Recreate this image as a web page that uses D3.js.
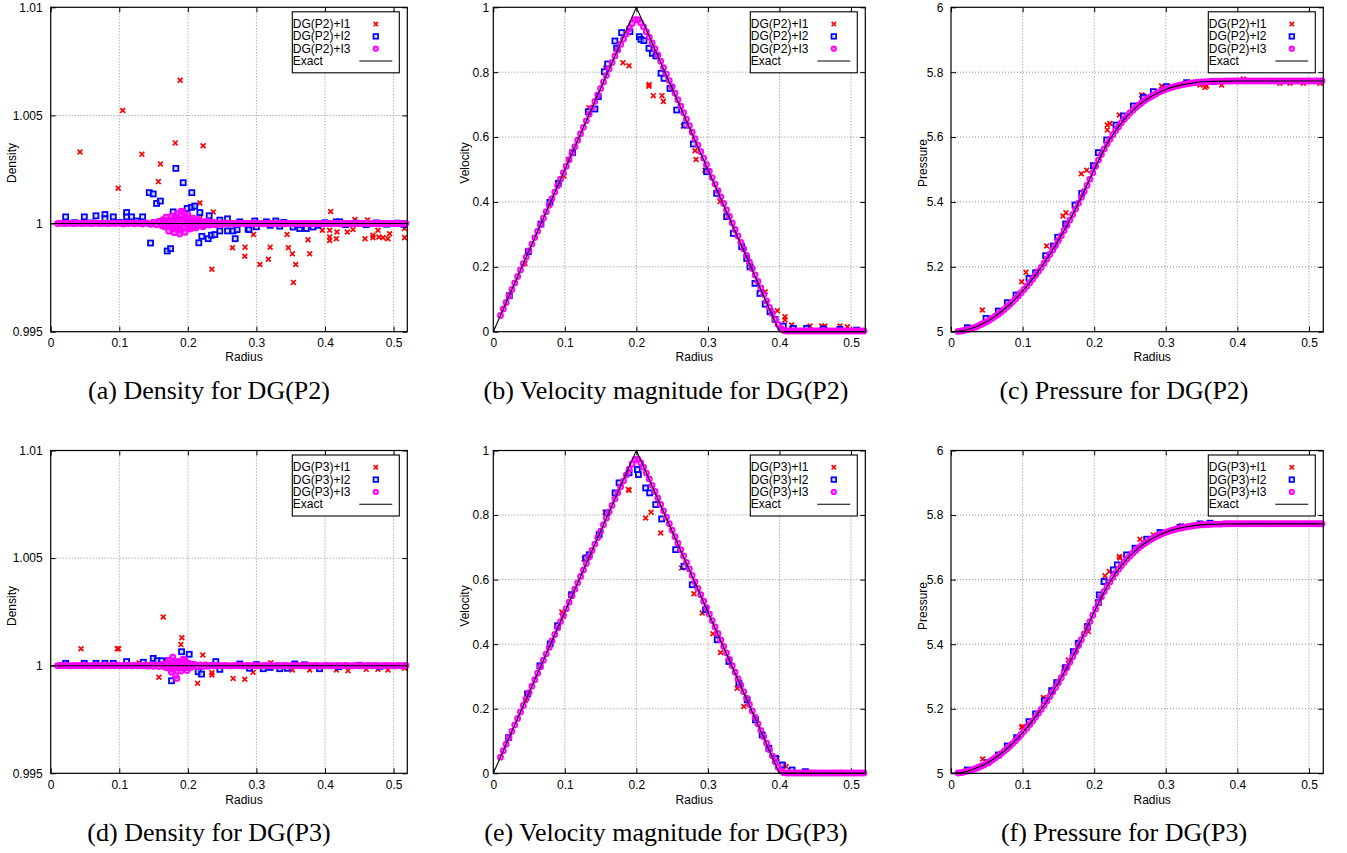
<!DOCTYPE html>
<html><head><meta charset="utf-8">
<script src="https://cdn.jsdelivr.net/npm/d3@7"></script>
<style>body{margin:0;background:#fff}svg{display:block}</style>
</head><body>
<svg id="chart" width="1347" height="853"></svg>
<script>
// ---------------- DATA ----------------
const xTickValues = [0, 0.1, 0.2, 0.3, 0.4, 0.5];
const xTickLabels = ["0", "0.1", "0.2", "0.3", "0.4", "0.5"];
const densityTicks = [0.995, 1, 1.005, 1.01];
const densityTickLabels = ["0.995", "1", "1.005", "1.01"];
const velocityTicks = [0, 0.2, 0.4, 0.6, 0.8, 1];
const velocityTickLabels = ["0", "0.2", "0.4", "0.6", "0.8", "1"];
const pressureTicks = [5, 5.2, 5.4, 5.6, 5.8, 6];
const pressureTickLabels = ["5", "5.2", "5.4", "5.6", "5.8", "6"];
const legendP2 = ["DG(P2)+I1", "DG(P2)+I2", "DG(P2)+I3", "Exact"];
const legendP3 = ["DG(P3)+I1", "DG(P3)+I2", "DG(P3)+I3", "Exact"];
const captions = ["(a) Density for DG(P2)", "(b) Velocity magnitude for DG(P2)", "(c) Pressure for DG(P2)",
                  "(d) Density for DG(P3)", "(e) Velocity magnitude for DG(P3)", "(f) Pressure for DG(P3)"];

// radii of the I3 sample points
const radiusI3 = [
0.010,0.014,0.018,0.022,0.026,0.030,0.034,0.038,0.042,0.046,
0.050,0.054,0.058,0.062,0.066,0.070,0.074,0.078,0.082,0.086,
0.090,0.094,0.098,0.102,0.106,0.110,0.114,0.118,0.122,0.126,
0.130,0.134,0.138,0.142,0.146,0.150,0.154,0.158,0.162,0.166,
0.170,0.174,0.178,0.182,0.186,0.190,0.194,0.198,0.202,0.206,
0.210,0.214,0.218,0.222,0.226,0.230,0.234,0.238,0.242,0.246,
0.250,0.254,0.258,0.262,0.266,0.270,0.274,0.278,0.282,0.286,
0.290,0.294,0.298,0.302,0.306,0.310,0.314,0.318,0.322,0.326,
0.330,0.334,0.338,0.342,0.346,0.350,0.354,0.358,0.362,0.366,
0.370,0.374,0.378,0.382,0.386,0.390,0.394,0.398,0.402,0.406,
0.410,0.414,0.418,0.422,0.426,0.430,0.434,0.438,0.442,0.446,
0.450,0.454,0.458,0.462,0.466,0.470,0.474,0.478,0.482,0.486,
0.490,0.494,0.498,0.502,0.506,0.510,0.514,0.518];

// ---- Density DG(P2) ----
const densP2_I1 = [[0.0427,1.00331],[0.0985,1.00163],[0.105,1.00523],[0.133,1.00321],[0.157,1.00194],[0.160,1.00275],
[0.1816,1.00373],[0.1888,1.00663],[0.2223,1.0036],[0.2175,1.00095],[0.237,1.00054],[0.2175,1.00023],[0.235,0.99789],
[0.265,0.99888],[0.2835,0.99891],[0.283,0.99849],[0.2956,0.99949],[0.305,0.99811],[0.3175,0.99835],[0.320,0.99891],
[0.3447,0.9995],[0.3466,0.99888],[0.3524,0.9986],[0.3539,0.99728],[0.3573,0.99811],[0.3777,0.9986],[0.3752,0.99925],
[0.396,0.99969],[0.4068,0.99969],[0.4083,1.00056],[0.4068,0.99938],[0.4068,0.99922],[0.4165,0.9993],[0.4175,0.99961],
[0.4325,0.99961],[0.4408,0.99972],[0.4437,1.00019],[0.4583,0.9993],[0.4621,1.00016],[0.4699,0.99946],[0.4699,0.99935],
[0.4772,0.99969],[0.4786,0.99938],[0.4845,0.99935],[0.4917,0.9993],[0.4942,0.99953],[0.516,0.99977],[0.516,0.99935],
[0.128,1.00005],[0.2,1.0002]];
const densP2_I2 = [[0.0218,1.00031],[0.049,1.00031],[0.066,1.00036],[0.0791,1.00042],[0.0791,1.00023],[0.0913,1.00031],
[0.1107,1.00051],[0.1107,1.00031],[0.118,1.00031],[0.134,1.00031],[0.1437,1.00143],[0.1495,1.00137],[0.1544,1.00093],
[0.160,1.00104],[0.1456,0.9991],[0.1699,0.99873],[0.1748,0.99884],[0.1786,1.00054],[0.1825,1.00255],[0.1932,1.00189],
[0.2058,1.00143],[0.199,1.0007],[0.2053,1.00075],[0.210,1.00081],[0.2175,1.00051],[0.2311,1.00036],[0.216,0.99911],
[0.2204,0.99941],[0.2296,0.9993],[0.2345,0.99946],[0.2393,0.99949],[0.2466,0.99966],[0.2466,1.00016],[0.2578,1.00022],
[0.2578,0.99966],[0.266,0.99966],[0.269,0.9993],[0.2718,0.99972],[0.2757,1.00008],[0.2879,0.99975],[0.2893,0.99972],
[0.2976,1.00012],[0.3146,1.00008],[0.3282,1.00012],[0.334,0.99988],[0.3534,0.99984],[0.3631,0.99977],[0.3728,0.99977],
[0.3825,0.99984],[0.4165,1.00008],[0.4214,1.00008],[0.43,0.99995],[0.445,1.00002],[0.46,0.99995],[0.475,1.00003],
[0.49,0.99997],[0.505,1.00002],[0.515,0.99996],[0.30,0.99985],[0.32,0.99992],[0.34,1.00005],[0.36,0.99995],
[0.39,0.99992],[0.40,1.00004],[0.125,1.00012],[0.10,1.00005],[0.06,1.00003],[0.035,1.00004]];
const densP2_I3 = [
1.00000,1.00002,1.00001,1.00000,1.00002,1.00001,1.00000,1.00002,1.00001,1.00000,
1.00001,1.00002,1.00000,1.00001,1.00003,1.00000,1.00001,1.00002,1.00000,1.00001,
1.00002,1.00000,1.00003,1.00001,0.99998,1.00002,1.00000,1.00003,0.99999,1.00002,
1.00001,0.99998,1.00004,1.00000,0.99997,1.00006,0.99995,1.00008,0.99992,1.00012,
0.99988,1.00015,0.99985,1.00018,0.99982,1.00020,0.99980,1.00018,0.99985,1.00015,
0.99990,1.00012,0.99992,1.00008,0.99994,1.00006,0.99996,1.00004,0.99997,1.00003,
0.99997,1.00003,0.99998,1.00002,1.00000,1.00001,0.99999,1.00001,1.00000,1.00001,
1.00000,0.99999,1.00001,1.00000,1.00001,0.99999,1.00000,1.00001,1.00000,0.99999,
1.00001,1.00000,1.00000,0.99999,1.00001,1.00000,1.00000,1.00001,0.99999,1.00000,
1.00001,1.00000,0.99999,1.00000,1.00001,1.00000,1.00000,0.99999,1.00001,1.00000,
1.00000,1.00001,1.00000,0.99999,1.00000,1.00001,1.00000,1.00000,0.99999,1.00001,
1.00000,1.00000,1.00001,1.00000,0.99999,1.00000,1.00001,1.00000,1.00000,0.99999,
1.00001,1.00000,1.00000,1.00001,1.00000,0.99999,1.00000,1.00001];
const densP2_I3_extra = [[0.158,1.00010],[0.162,0.99990],[0.164,1.00018],[0.166,0.99985],[0.168,1.00030],[0.170,1.00012],
[0.172,0.99965],[0.174,0.99988],[0.176,1.00035],[0.177,1.00015],[0.178,0.99975],[0.180,0.99958],[0.181,1.00025],
[0.183,0.99990],[0.184,1.00045],[0.186,1.00020],[0.187,0.99970],[0.188,0.99952],[0.189,1.00035],[0.190,1.00057],
[0.192,1.00010],[0.193,1.00055],[0.194,0.99985],[0.196,0.99960],[0.197,1.00030],[0.199,1.00015],[0.200,1.00040],
[0.201,0.99980],[0.203,1.00020],[0.204,0.99975],[0.206,1.00008],[0.208,1.00025],[0.210,0.99992],[0.212,0.99980],
[0.214,1.00010],[0.216,1.00018],[0.219,0.99990],[0.222,0.99985],[0.225,1.00008],[0.228,1.00012],[0.232,0.99993],
[0.236,1.00006],[0.240,0.99995]];

// ---- Density DG(P3) ----
const densP3_I1 = [[0.0442,1.00079],[0.0971,1.00079],[0.099,1.00079],[0.1641,1.00226],[0.1913,1.0013],[0.1898,1.00098],
[0.2218,1.0005],[0.1578,0.99946],[0.2141,0.99918],[0.235,0.99957],[0.235,0.99967],[0.266,0.99941],[0.283,0.99937],
[0.2951,0.99969],[0.3209,1.00014],[0.3524,0.9998],[0.3777,0.9998],[0.4165,0.9998],[0.4335,0.99977],[0.4602,0.99983],
[0.4772,0.99983],[0.4917,0.9998],[0.516,0.99988],[0.129,1.00014]];
const densP3_I2 = [[0.0218,1.00011],[0.049,1.00011],[0.066,1.00011],[0.0791,1.00011],[0.0913,1.00011],[0.1107,1.00019],
[0.135,1.00016],[0.1495,1.00034],[0.1553,1.00023],[0.1617,1.00023],[0.1714,1.00023],[0.1762,0.9993],[0.1908,1.00065],
[0.202,1.00053],[0.215,0.99972],[0.22,0.99961],[0.2408,1.00019],[0.2466,0.99983],[0.2757,1.00008],[0.31,0.99986],
[0.334,0.99986],[0.3558,1.00008],[0.392,0.99986],[0.29,0.99988],[0.30,1.00005],[0.32,0.99992],[0.345,0.99988],
[0.37,1.00004],[0.42,0.99995],[0.45,1.00002],[0.48,0.99997]];
const densP3_I3 = [
1.00000,1.00001,1.00000,1.00001,1.00000,0.99999,1.00001,1.00000,1.00001,1.00000,
1.00001,1.00000,0.99999,1.00001,1.00000,1.00001,1.00000,0.99999,1.00001,1.00000,
1.00001,1.00000,1.00002,0.99999,1.00001,1.00000,1.00002,0.99999,1.00001,1.00000,
1.00001,0.99999,1.00002,0.99998,1.00003,0.99997,1.00004,0.99996,1.00006,0.99994,
1.00010,0.99990,1.00012,0.99988,1.00012,0.99990,1.00010,0.99992,1.00008,0.99994,
1.00006,0.99995,1.00004,0.99996,1.00003,0.99997,1.00002,0.99999,1.00001,1.00000,
1.00000,1.00001,1.00000,0.99999,1.00000,1.00001,1.00000,1.00000,0.99999,1.00001,
1.00000,1.00000,1.00001,1.00000,0.99999,1.00000,1.00001,1.00000,1.00000,0.99999,
1.00001,1.00000,1.00000,1.00001,1.00000,0.99999,1.00000,1.00001,1.00000,1.00000,
0.99999,1.00001,1.00000,1.00000,1.00001,1.00000,0.99999,1.00000,1.00001,1.00000,
1.00000,0.99999,1.00001,1.00000,1.00000,1.00001,1.00000,0.99999,1.00000,1.00001,
1.00000,1.00000,0.99999,1.00001,1.00000,1.00000,1.00001,1.00000,0.99999,1.00000,
1.00001,1.00000,1.00000,0.99999,1.00001,1.00000,1.00000,1.00001];
const densP3_I3_extra = [[0.168,1.00008],[0.170,0.99990],[0.172,1.00025],[0.174,1.00010],[0.176,0.99970],[0.177,0.99985],
[0.178,1.00039],[0.180,1.00020],[0.181,0.99988],[0.182,0.99955],[0.184,0.99941],[0.185,1.00012],[0.186,1.00020],
[0.188,0.99990],[0.190,0.99975],[0.191,1.00010],[0.193,1.00030],[0.194,0.99992],[0.196,1.00025],[0.198,1.00008],
[0.199,0.99978],[0.201,1.00012],[0.203,0.99992],[0.206,1.00006]];

// ---- Velocity DG(P2) ----
const velP2_I1 = [[0.0443,0.2107],[0.0988,0.48],[0.1048,0.531],[0.1337,0.6906],[0.157,0.812],[0.1813,0.829],[0.1897,0.82],
[0.2176,0.757],[0.2176,0.762],[0.2237,0.7276],[0.2358,0.7276],[0.2377,0.71],[0.2656,0.634],[0.282,0.558],[0.2834,0.531],
[0.2959,0.498],[0.3169,0.401],[0.38,0.123],[0.397,0.0647],[0.4077,0.0462],[0.4077,0.036],[0.417,0.0206],[0.4427,0.0175],
[0.459,0.0175],[0.4636,0.0175],[0.4846,0.0175],[0.4949,0.0154]];
const velP2_I2 = [[0.0224,0.111],[0.049,0.2467],[0.0666,0.332],[0.0792,0.3988],[0.0909,0.4573],[0.1109,0.552],[0.1328,0.678],
[0.1421,0.6865],[0.1468,0.7246],[0.1552,0.8016],[0.1598,0.8253],[0.170,0.8962],[0.1724,0.8736],[0.1794,0.922],[0.191,0.925],
[0.2041,0.9095],[0.2064,0.901],[0.2106,0.8972],[0.2176,0.8736],[0.2223,0.858],[0.2274,0.85],[0.2344,0.7965],[0.2386,0.781],
[0.247,0.75],[0.2563,0.6834],[0.268,0.637],[0.2796,0.5786],[0.2982,0.4933],[0.3122,0.4265],[0.3262,0.3546],[0.3355,0.303],
[0.3472,0.262],[0.3542,0.226],[0.3588,0.2],[0.3658,0.149],[0.3728,0.118],[0.38,0.085],[0.3868,0.0617],[0.3938,0.038],
[0.4054,0.0175],[0.4194,0.0103],[0.438,0.0103],[0.4613,0.0082],[0.4846,0.0072],[0.508,0.005]];
const velP2_I3 = [
0.050,0.070,0.090,0.110,0.130,0.150,0.170,0.190,0.210,0.230,
0.250,0.270,0.290,0.310,0.330,0.350,0.370,0.390,0.410,0.430,
0.450,0.470,0.490,0.510,0.530,0.550,0.570,0.590,0.610,0.630,
0.650,0.670,0.690,0.710,0.730,0.750,0.770,0.790,0.810,0.830,
0.850,0.868,0.886,0.902,0.918,0.935,0.950,0.962,0.962,0.952,
0.940,0.925,0.908,0.890,0.872,0.853,0.834,0.814,0.794,0.774,
0.755,0.735,0.715,0.695,0.675,0.655,0.635,0.615,0.595,0.575,
0.555,0.535,0.515,0.495,0.475,0.455,0.435,0.415,0.395,0.375,
0.355,0.335,0.315,0.295,0.275,0.255,0.235,0.215,0.195,0.175,
0.155,0.135,0.115,0.095,0.075,0.056,0.038,0.022,0.010,0.004,
0.002,0.002,0.002,0.002,0.002,0.002,0.002,0.002,0.002,0.002,
0.002,0.002,0.002,0.002,0.002,0.002,0.002,0.002,0.002,0.002,
0.002,0.002,0.002,0.002,0.002,0.002,0.002,0.002];

// ---- Velocity DG(P3) ----
const velP3_I1 = [[0.1898,0.877],[0.1888,0.879],[0.1563,0.8087],[0.127,0.664],[0.0958,0.4995],[0.0977,0.486],[0.0447,0.2254],
[0.213,0.791],[0.2205,0.8087],[0.234,0.7446],[0.2633,0.636],[0.2805,0.5564],[0.2921,0.4964],[0.307,0.4323],[0.3177,0.3743],
[0.3409,0.2637],[0.3502,0.2068],[0.3967,0.0465],[0.406,0.0259],[0.4093,0.0207],[0.441,0.003],[0.483,0.003]];
const velP3_I2 = [[0.0214,0.1107],[0.0479,0.2461],[0.0651,0.333],[0.0795,0.401],[0.0898,0.457],[0.1093,0.5533],[0.1293,0.667],
[0.134,0.677],[0.1479,0.7394],[0.1586,0.8066],[0.1702,0.8687],[0.1758,0.8997],[0.1898,0.9307],[0.2014,0.941],[0.2028,0.9255],
[0.213,0.884],[0.2186,0.8687],[0.227,0.8325],[0.2353,0.788],[0.2549,0.6929],[0.2665,0.6412],[0.2781,0.5843],[0.2967,0.5067],
[0.313,0.4137],[0.3293,0.3464],[0.3433,0.2792],[0.3549,0.2275],[0.3665,0.1655],[0.3758,0.1189],[0.3851,0.0776],
[0.3944,0.0465],[0.4037,0.0259],[0.4177,0.0103],[0.4363,0.005]];
const velP3_I3 = [
0.050,0.070,0.090,0.110,0.130,0.150,0.170,0.190,0.210,0.230,
0.250,0.270,0.290,0.310,0.330,0.350,0.370,0.390,0.410,0.430,
0.450,0.470,0.490,0.510,0.530,0.550,0.570,0.590,0.610,0.630,
0.650,0.670,0.690,0.710,0.730,0.750,0.770,0.790,0.810,0.830,
0.850,0.869,0.888,0.906,0.924,0.942,0.958,0.972,0.973,0.962,
0.948,0.930,0.912,0.892,0.873,0.853,0.833,0.813,0.793,0.773,
0.753,0.733,0.713,0.693,0.673,0.653,0.633,0.613,0.593,0.573,
0.553,0.533,0.513,0.493,0.473,0.453,0.433,0.413,0.393,0.373,
0.353,0.333,0.313,0.293,0.273,0.253,0.233,0.213,0.193,0.173,
0.153,0.133,0.113,0.093,0.073,0.054,0.036,0.019,0.007,0.002,
0.001,0.001,0.001,0.001,0.001,0.001,0.001,0.001,0.001,0.001,
0.001,0.001,0.001,0.001,0.001,0.001,0.001,0.001,0.001,0.001,
0.001,0.001,0.001,0.001,0.001,0.001,0.001,0.001];

// ---- Pressure DG(P2) ----
const presP2_I1 = [[0.0438,5.0668],[0.0987,5.1542],[0.1047,5.183],[0.1336,5.264],[0.1564,5.3566],[0.1606,5.367],[0.182,5.487],
[0.1895,5.498],[0.2183,5.637],[0.2183,5.622],[0.222,5.642],[0.2351,5.668],[0.2663,5.73],[0.2675,5.728],[0.2942,5.7575],
[0.3547,5.7533],[0.357,5.7575],[0.3478,5.7605],[0.378,5.7605],[0.4083,5.779],[0.4153,5.771],[0.4595,5.7657],
[0.4735,5.7657],[0.4921,5.7657],[0.5154,5.7657]];
const presP2_I2 = [[0.0228,5.0123],[0.0489,5.041],[0.0661,5.0637],[0.0787,5.0894],[0.0908,5.113],[0.1089,5.1644],[0.1182,5.1819],
[0.1322,5.2343],[0.1429,5.2641],[0.149,5.2909],[0.1601,5.332],[0.1732,5.3905],[0.1825,5.4265],[0.1988,5.5118],[0.2058,5.5519],
[0.2174,5.591],[0.2304,5.637],[0.2407,5.665],[0.2547,5.6958],[0.2686,5.7225],[0.2826,5.74],[0.3012,5.7554],[0.3291,5.7677],
[0.3664,5.7708]];
const presP2_I3 = [
5.001,5.002,5.004,5.006,5.008,5.011,5.014,5.018,5.022,5.026,
5.031,5.036,5.042,5.048,5.054,5.061,5.068,5.076,5.084,5.092,
5.101,5.110,5.120,5.130,5.140,5.151,5.162,5.174,5.186,5.198,
5.211,5.224,5.238,5.252,5.266,5.281,5.296,5.312,5.328,5.344,
5.361,5.378,5.396,5.414,5.432,5.451,5.470,5.490,5.510,5.529,
5.546,5.563,5.579,5.593,5.607,5.620,5.632,5.644,5.655,5.664,
5.674,5.683,5.691,5.698,5.705,5.712,5.718,5.723,5.728,5.733,
5.738,5.742,5.745,5.749,5.752,5.754,5.757,5.759,5.761,5.763,
5.764,5.766,5.767,5.768,5.769,5.770,5.770,5.771,5.771,5.772,
5.772,5.772,5.772,5.773,5.773,5.773,5.773,5.773,5.773,5.773,
5.773,5.773,5.773,5.773,5.773,5.773,5.773,5.773,5.773,5.773,
5.773,5.773,5.773,5.773,5.773,5.773,5.773,5.773,5.773,5.773,
5.773,5.773,5.773,5.773,5.773,5.773,5.773,5.773];

// ---- Pressure DG(P3) ----
const presP3_I1 = [[0.0442,5.0444],[0.0987,5.1426],[0.1,5.1446],[0.129,5.2345],[0.1578,5.3254],[0.1639,5.3512],[0.1918,5.439],
[0.2151,5.6116],[0.2211,5.625],[0.2351,5.6715],[0.236,5.667],[0.264,5.725],[0.2826,5.7386],[0.3222,5.7665]];
const presP3_I2 = [[0.0228,5.0103],[0.0507,5.033],[0.0661,5.0568],[0.0787,5.0847],[0.0917,5.1105],[0.1089,5.1601],[0.1182,5.1839],
[0.1304,5.2252],[0.1406,5.2562],[0.1476,5.281],[0.1601,5.3275],[0.1709,5.377],[0.1778,5.4029],[0.1904,5.4545],[0.2058,5.5289],
[0.2071,5.5527],[0.2137,5.594],[0.2267,5.6302],[0.2323,5.6457],[0.2453,5.6767],[0.257,5.6973],[0.2733,5.7252],[0.2919,5.7459],
[0.3198,5.7624],[0.3478,5.7727],[0.3617,5.7748]];
const presP3_I3 = [
5.001,5.002,5.004,5.006,5.008,5.011,5.014,5.018,5.022,5.026,
5.031,5.036,5.042,5.048,5.054,5.061,5.068,5.076,5.084,5.092,
5.101,5.110,5.120,5.130,5.140,5.151,5.162,5.174,5.186,5.198,
5.211,5.224,5.238,5.252,5.266,5.281,5.296,5.312,5.328,5.344,
5.361,5.378,5.396,5.414,5.432,5.451,5.470,5.490,5.509,5.528,
5.546,5.563,5.578,5.593,5.607,5.620,5.632,5.643,5.654,5.664,
5.673,5.682,5.690,5.698,5.705,5.711,5.717,5.723,5.728,5.733,
5.737,5.741,5.745,5.748,5.751,5.754,5.756,5.758,5.760,5.762,
5.764,5.765,5.767,5.768,5.769,5.770,5.770,5.771,5.771,5.772,
5.772,5.772,5.772,5.773,5.773,5.773,5.773,5.773,5.773,5.773,
5.773,5.773,5.773,5.773,5.773,5.773,5.773,5.773,5.773,5.773,
5.773,5.773,5.773,5.773,5.773,5.773,5.773,5.773,5.773,5.773,
5.773,5.773,5.773,5.773,5.773,5.773,5.773,5.773];

// ---- Exact solutions ----
const exactDensR = [0, 0.52];
const exactDensV = [1, 1];
const exactVelR = [0, 0.2, 0.4, 0.52];
const exactVelV = [0, 1, 0, 0];
const exactPresR = [0,0.02,0.04,0.06,0.08,0.10,0.12,0.14,0.16,0.18,0.20,0.22,0.24,0.26,0.28,0.30,0.32,0.34,0.36,0.38,0.40,0.52];
const exactPresV = [5,5.005,5.02,5.045,5.08,5.125,5.18,5.245,5.32,5.405,5.5,5.586,5.649,5.6945,5.7259,5.7469,5.76,5.7675,5.7711,5.7724,5.7726,5.7726];

// ---------------- LAYOUT ----------------
const rowTB = [[7.3, 331.7], [450.5, 773.3]];
const colLR = [[50.7, 407.3], [493.3, 865.3], [951, 1323.3]];
const colYLabelX = [11.5, 465, 923];
const colTickPad = [8, 4, 7.7];
const colCaptionX = [209, 666, 1124];
const rowCaptionY = [399, 841];
const rowYLabelY = [163, 606];
const rowXLabelY = [357, 799.5];

const panels = [
 {row:0,col:0,dom:[0.995,1.01],ticks:densityTicks,tl:densityTickLabels,yl:"Density",leg:legendP2,I1:densP2_I1,I2:densP2_I2,I3:densP2_I3,I3x:densP2_I3_extra,er:exactDensR,ev:exactDensV,cap:captions[0],curve:d3.curveLinear},
 {row:0,col:1,dom:[0,1],ticks:velocityTicks,tl:velocityTickLabels,yl:"Velocity",leg:legendP2,I1:velP2_I1,I2:velP2_I2,I3:velP2_I3,I3x:[],er:exactVelR,ev:exactVelV,cap:captions[1],curve:d3.curveLinear},
 {row:0,col:2,dom:[5,6],ticks:pressureTicks,tl:pressureTickLabels,yl:"Pressure",leg:legendP2,I1:presP2_I1,I2:presP2_I2,I3:presP2_I3,I3x:[],er:exactPresR,ev:exactPresV,cap:captions[2],curve:d3.curveMonotoneX},
 {row:1,col:0,dom:[0.995,1.01],ticks:densityTicks,tl:densityTickLabels,yl:"Density",leg:legendP3,I1:densP3_I1,I2:densP3_I2,I3:densP3_I3,I3x:densP3_I3_extra,er:exactDensR,ev:exactDensV,cap:captions[3],curve:d3.curveLinear},
 {row:1,col:1,dom:[0,1],ticks:velocityTicks,tl:velocityTickLabels,yl:"Velocity",leg:legendP3,I1:velP3_I1,I2:velP3_I2,I3:velP3_I3,I3x:[],er:exactVelR,ev:exactVelV,cap:captions[4],curve:d3.curveLinear},
 {row:1,col:2,dom:[5,6],ticks:pressureTicks,tl:pressureTickLabels,yl:"Pressure",leg:legendP3,I1:presP3_I1,I2:presP3_I2,I3:presP3_I3,I3x:[],er:exactPresR,ev:exactPresV,cap:captions[5],curve:d3.curveMonotoneX}
];

const SANS = "'Liberation Sans', Arial, Helvetica, sans-serif";
const SERIF = "'Liberation Serif', 'Times New Roman', serif";
const RED = "#ff0000", BLUE = "#0000ff", MAG = "#ff00ff";
const svg = d3.select("#chart");
svg.append("rect").attr("width",1347).attr("height",853).attr("fill","#fff");

function crossPath(s){return `M${-s},${-s}L${s},${s}M${-s},${s}L${s},${-s}`;}

function styleAxis(sel){
  sel.select(".domain").remove();
  sel.attr("font-family", SANS).attr("font-size", 12);
  sel.selectAll(".tick line").attr("stroke","#000").attr("stroke-width",1);
  sel.selectAll(".tick text").attr("fill","#000");
}

panels.forEach(p => {
  const [top, bottom] = rowTB[p.row];
  const [left, right] = colLR[p.col];
  const x = d3.scaleLinear().domain([0, 0.52]).range([left, right]);
  const y = d3.scaleLinear().domain(p.dom).range([bottom, top]);
  const g = svg.append("g");

  // grid
  const grid = g.append("g").attr("stroke","#8c8c8c").attr("stroke-width",1).attr("stroke-dasharray","1,2");
  grid.selectAll("line.gx").data(xTickValues.filter(v => v > 0)).join("line")
    .attr("x1", d => x(d)).attr("x2", d => x(d)).attr("y1", top).attr("y2", bottom);
  grid.selectAll("line.gy").data(p.ticks.filter(v => v > p.dom[0] && v < p.dom[1])).join("line")
    .attr("x1", left).attr("x2", right).attr("y1", d => y(d)).attr("y2", d => y(d));

  // axes (inward ticks, mirrored)
  g.append("g").attr("transform",`translate(0,${bottom})`)
    .call(d3.axisBottom(x).tickValues(xTickValues).tickFormat((d,i)=>xTickLabels[i]).tickSizeInner(-5).tickSizeOuter(0).tickPadding(7))
    .call(styleAxis);
  g.append("g").attr("transform",`translate(0,${top})`)
    .call(d3.axisTop(x).tickValues(xTickValues).tickFormat("").tickSizeInner(-5).tickSizeOuter(0))
    .call(styleAxis);
  g.append("g").attr("transform",`translate(${left},0)`)
    .call(d3.axisLeft(y).tickValues(p.ticks).tickFormat((d,i)=>p.tl[i]).tickSizeInner(-5).tickSizeOuter(0).tickPadding(colTickPad[p.col]))
    .call(styleAxis);
  g.append("g").attr("transform",`translate(${right},0)`)
    .call(d3.axisRight(y).tickValues(p.ticks).tickFormat("").tickSizeInner(-5).tickSizeOuter(0))
    .call(styleAxis);

  // series I1 (red crosses)
  g.append("g").selectAll("path").data(p.I1).join("path")
    .attr("transform", d => `translate(${x(d[0])},${y(d[1])})`)
    .attr("d", crossPath(2.4)).attr("stroke", RED).attr("stroke-width", 1.7).attr("fill","none");
  // series I2 (blue squares)
  g.append("g").selectAll("rect").data(p.I2).join("rect")
    .attr("x", d => x(d[0]) - 2.5).attr("y", d => y(d[1]) - 2.5).attr("width",5).attr("height",5)
    .attr("stroke", BLUE).attr("stroke-width", 1.8).attr("fill","#c8c8ff").attr("fill-opacity",0.6);
  // series I3 (magenta circles)
  const i3pts = radiusI3.map((r,i)=>[r, p.I3[i]]).concat(p.I3x);
  g.append("g").selectAll("circle").data(i3pts).join("circle")
    .attr("cx", d => x(d[0])).attr("cy", d => y(d[1])).attr("r", 2.5)
    .attr("stroke", MAG).attr("stroke-width", 1.9).attr("fill", MAG).attr("fill-opacity", 0.45);
  // exact
  const ex = p.er.map((r,i)=>[r, p.ev[i]]);
  g.append("path").datum(ex)
    .attr("d", d3.line().x(d=>x(d[0])).y(d=>y(d[1])).curve(p.curve))
    .attr("fill","none").attr("stroke","#000").attr("stroke-width",1.1);

  // border
  g.append("rect").attr("x",left).attr("y",top).attr("width",right-left).attr("height",bottom-top)
    .attr("fill","none").attr("stroke","#000").attr("stroke-width",1.2);

  // legend
  const lw = 107, lh = 61;
  const lx = right - 8 - lw, ly = top + 4.5;
  const lg = g.append("g");
  lg.append("rect").attr("x",lx).attr("y",ly).attr("width",lw).attr("height",lh)
    .attr("fill","#fff").attr("stroke","#000").attr("stroke-width",1.1);
  p.leg.forEach((name,i) => {
    const cy = ly + 12.3 + i*12.3;
    lg.append("text").attr("x", lx + 0.5).attr("y", cy).attr("dominant-baseline","central")
      .attr("font-family", SANS).attr("font-size", 12).attr("fill","#000").text(name);
  });
  const mx = lx + 83.5;
  lg.append("path").attr("transform",`translate(${mx},${ly+12.3})`).attr("d",crossPath(2.2))
    .attr("stroke",RED).attr("stroke-width",1.6).attr("fill","none");
  lg.append("rect").attr("x",mx-2.3).attr("y",ly+24.6-2.3).attr("width",4.6).attr("height",4.6)
    .attr("stroke",BLUE).attr("stroke-width",1.7).attr("fill","#c8c8ff").attr("fill-opacity",0.6);
  lg.append("circle").attr("cx",mx).attr("cy",ly+36.9).attr("r",2.2)
    .attr("stroke",MAG).attr("stroke-width",1.8).attr("fill",MAG).attr("fill-opacity",0.45);
  lg.append("line").attr("x1",lx+67).attr("x2",lx+100).attr("y1",ly+49.2).attr("y2",ly+49.2)
    .attr("stroke","#000").attr("stroke-width",1.1);

  // axis titles
  g.append("text").attr("x", (left+right)/2 + 15).attr("y", rowXLabelY[p.row])
    .attr("text-anchor","middle").attr("dominant-baseline","central")
    .attr("font-family", SANS).attr("font-size", 12).text("Radius");
  g.append("text").attr("transform", `translate(${colYLabelX[p.col]},${rowYLabelY[p.row]}) rotate(-90)`)
    .attr("text-anchor","middle").attr("dominant-baseline","central")
    .attr("font-family", SANS).attr("font-size", 12).text(p.yl);

  // caption
  svg.append("text").attr("x", colCaptionX[p.col]).attr("y", rowCaptionY[p.row])
    .attr("text-anchor","middle").attr("font-family", SERIF).attr("font-size", 26).attr("fill","#000").text(p.cap);
});
</script>
</body></html>
